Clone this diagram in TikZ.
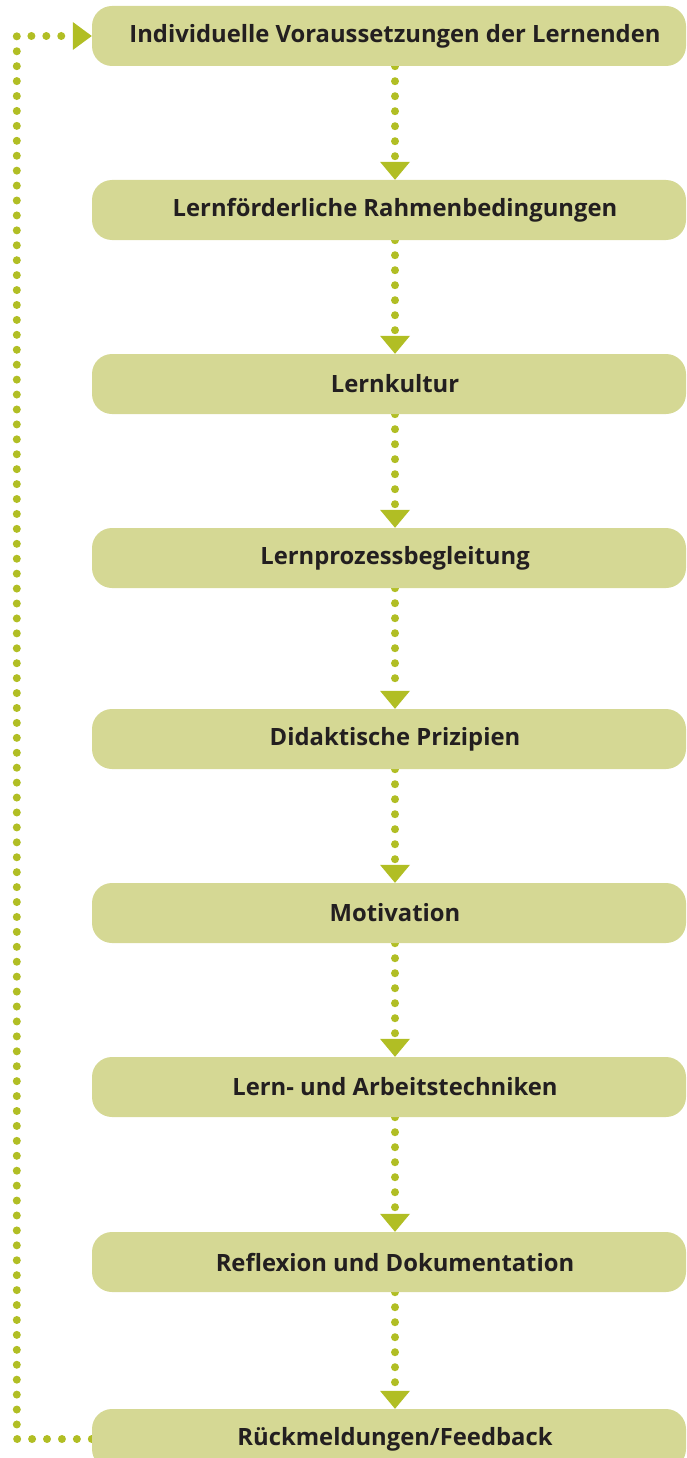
\documentclass[tikz,border=0pt]{standalone}
\usepackage{fontspec}
\setmainfont{Open Sans}
\usetikzlibrary{arrows.meta}
\definecolor{boxfill}{HTML}{D5D894}
\definecolor{dotgreen}{HTML}{B1BE24}
\definecolor{txt}{HTML}{231F20}
\pgfdeclarelayer{bg}
\pgfsetlayers{bg,main}
\tikzset{
  box/.style={rectangle, rounded corners=20pt, fill=boxfill, minimum width=594pt,
    minimum height=60pt, inner sep=0pt, font=\fontsize{23.8}{28}\selectfont\bfseries, text=txt},
  flow/.style={draw=dotgreen, line width=8pt, line cap=round,
    dash pattern=on 0pt off 15pt,
    -{Triangle[width=30pt,length=18pt,line width=0pt]}},
}
\begin{document}
\begin{tikzpicture}[x=1pt,y=-1pt]
\useasboundingbox (0,0) rectangle (686,1458);
\node[box] (b1) at (389,36)   {\hspace*{12pt}Individuelle Voraussetzungen der Lernenden};
\node[box] (b2) at (389,210)  {\hspace*{12pt}Lernförderliche Rahmenbedingungen};
\node[box] (b3) at (389,384)  {\hspace*{12pt}Lernkultur};
\node[box] (b4) at (389,558)  {\hspace*{12pt}Lernprozessbegleitung};
\node[box] (b5) at (389,739)  {\hspace*{12pt}Didaktische Prizipien};
\node[box] (b6) at (389,913)  {\hspace*{12pt}Motivation};
\node[box] (b7) at (389,1087) {\hspace*{12pt}Lern- und Arbeitstechniken};
\node[box] (b8) at (389,1262) {\hspace*{12pt}Reflexion und Dokumentation};
\node[box] (b9) at (389,1439) {\hspace*{12pt}Rückmeldungen/Feedback};
\begin{pgfonlayer}{bg}
\foreach \a/\b in {b1/b2,b2/b3,b3/b4,b4/b5,b5/b6,b6/b7,b7/b8,b8/b9}{
  \draw[flow] ([xshift=6pt]\a.south) -- ([xshift=6pt]\b.north);
}
\draw[flow, dash pattern=on 0pt off 14.926pt,
  -{Triangle[width=28pt,length=19pt,line width=0pt]}]
  (b9.west) -- ++(-75,0) |- (b1.west);
\end{pgfonlayer}
\end{tikzpicture}
\end{document}
